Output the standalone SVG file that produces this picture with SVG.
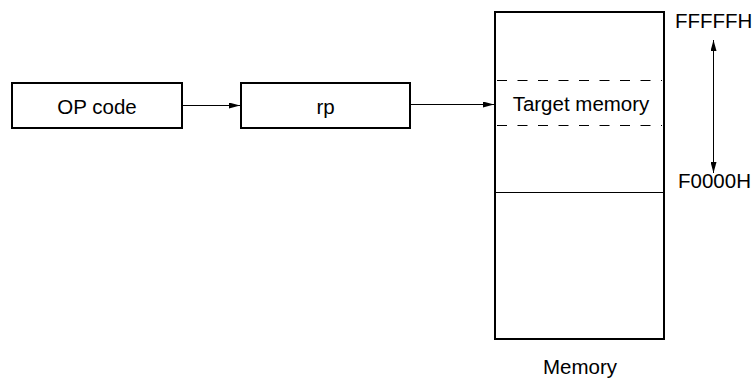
<svg xmlns="http://www.w3.org/2000/svg" width="756" height="381" viewBox="0 0 756 381">
<style>
.box{fill:#fff;stroke:#000;stroke-width:2}
.t{font-family:"Liberation Sans",Arial,sans-serif;font-size:20.5px;fill:#000}
.c{stroke:#000;stroke-width:1;fill:none}
.d{stroke:#000;stroke-width:1;stroke-dasharray:10 10.5;fill:none}
</style>
<defs>
<marker id="ah" viewBox="0 0 11 6" refX="11" refY="3" markerWidth="11" markerHeight="6" markerUnits="userSpaceOnUse" orient="auto-start-reverse">
<path d="M0,0 L11,3 L0,6 Z" fill="#000"/>
</marker>
</defs>
<g id="opcode">
<rect class="box" x="12" y="83" width="170" height="45"/>
<text class="t" x="97" y="114" text-anchor="middle">OP code</text>
</g>
<g id="rp">
<rect class="box" x="241" y="83" width="169" height="45"/>
<text class="t" x="325.5" y="114" text-anchor="middle">rp</text>
</g>
<g id="memory">
<rect class="box" x="495" y="12" width="169" height="327"/>
<line class="d" x1="497" y1="80.5" x2="662" y2="80.5"/>
<line class="d" x1="497" y1="125.5" x2="662" y2="125.5"/>
<line class="c" x1="495" y1="192.5" x2="664" y2="192.5"/>
<text class="t" x="581" y="111" text-anchor="middle">Target memory</text>
<text class="t" x="580" y="374" text-anchor="middle">Memory</text>
</g>
<g id="addresses">
<text class="t" x="675" y="28">FFFFFH</text>
<text class="t" x="678" y="188">F0000H</text>
</g>
<g id="connectors">
<line class="c" x1="183" y1="105.5" x2="240" y2="105.5" marker-end="url(#ah)"/>
<line class="c" x1="411" y1="104.5" x2="494" y2="104.5" marker-end="url(#ah)"/>
<line class="c" x1="713.5" y1="40" x2="713.5" y2="173" marker-start="url(#ah)" marker-end="url(#ah)"/>
</g>
</svg>
